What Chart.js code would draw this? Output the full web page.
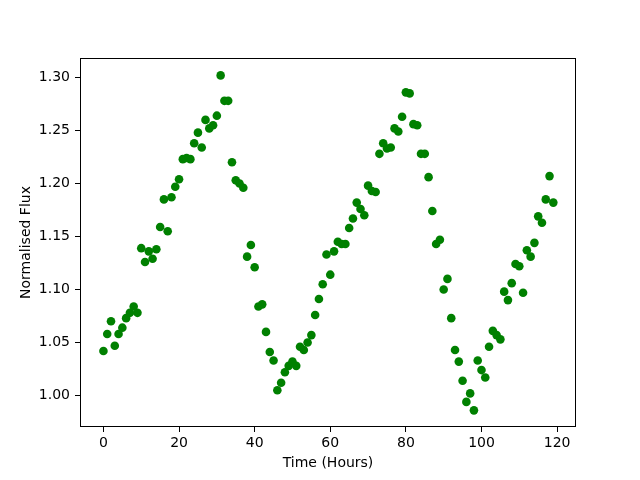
<!DOCTYPE html>
<html>
<head>
<meta charset="utf-8">
<script src="https://cdn.jsdelivr.net/npm/chart.js@4"></script>
<style>
  html, body { margin: 0; padding: 0; background: #fff; }
  #wrap { width: 640px; height: 480px; }
</style>
</head>
<body>
<div id="wrap"><canvas id="chart" width="640" height="480"></canvas></div>
<script>
// time of each sample, hours
const hours = [
    0, 1, 2, 3, 4, 5, 6, 7, 8, 9,
    10, 11, 12, 13, 14, 15, 16, 17, 18, 19,
    20, 21, 22, 23, 24, 25, 26, 27, 28, 29,
    30, 31, 32, 33, 34, 35, 36, 37, 38, 39,
    40, 41, 42, 43, 44, 45, 46, 47, 48, 49,
    50, 51, 52, 53, 54, 55, 56, 57, 58, 59,
    60, 61, 62, 63, 64, 65, 66, 67, 68, 69,
    70, 71, 72, 73, 74, 75, 76, 77, 78, 79,
    80, 81, 82, 83, 84, 85, 86, 87, 88, 89,
    90, 91, 92, 93, 94, 95, 96, 97, 98, 99,
    100, 101, 102, 103, 104, 105, 106, 107, 108, 109,
    110, 111, 112, 113, 114, 115, 116, 117, 118, 119
];

// normalised flux
const flux = [
    1.042, 1.058, 1.070, 1.047, 1.058, 1.064, 1.073, 1.078, 1.084, 1.078,
    1.139, 1.126, 1.136, 1.129, 1.138, 1.159, 1.185, 1.155, 1.187, 1.197,
    1.204, 1.223, 1.224, 1.223, 1.238, 1.248, 1.234, 1.260, 1.252, 1.255,
    1.264, 1.302, 1.278, 1.278, 1.220, 1.203, 1.200, 1.196, 1.131, 1.142,
    1.121, 1.084, 1.086, 1.060, 1.041, 1.033, 1.005, 1.012, 1.022, 1.028,
    1.032, 1.028, 1.046, 1.043, 1.050, 1.057, 1.076, 1.091, 1.105, 1.133,
    1.114, 1.136, 1.145, 1.143, 1.143, 1.158, 1.167, 1.182, 1.176, 1.170,
    1.198, 1.193, 1.192, 1.228, 1.238, 1.233, 1.234, 1.252, 1.249, 1.263,
    1.286, 1.285, 1.256, 1.255, 1.228, 1.228, 1.206, 1.174, 1.143, 1.147,
    1.100, 1.110, 1.073, 1.043, 1.032, 1.014, 0.994, 1.002, 0.986, 1.033,
    1.024, 1.017, 1.046, 1.061, 1.057, 1.053, 1.098, 1.090, 1.106, 1.124,
    1.122, 1.097, 1.137, 1.131, 1.144, 1.169, 1.163, 1.185, 1.207, 1.182
];

const xTicks = [0, 20, 40, 60, 80, 100, 120];
const yTicks = [1.00, 1.05, 1.10, 1.15, 1.20, 1.25, 1.30];

const font = { family: 'DejaVu Sans', size: 14 };

// black box round the plot area
const frame = {
    id: 'frame',
    afterDraw(chart) {
        const { ctx, chartArea: a } = chart;
        ctx.save();
        ctx.strokeStyle = '#000';
        ctx.lineWidth = 1;
        ctx.strokeRect(a.left + 0.5, a.top + 0.5, a.right - a.left - 1, a.bottom - a.top - 1);
        ctx.restore();
    }
};

new Chart(document.getElementById('chart'), {
    type: 'scatter',
    data: {
        datasets: [{
            data: hours.map((h, i) => ({ x: h, y: flux[i] })),
            backgroundColor: '#008000',
            borderColor: '#008000',
            borderWidth: 0,
            pointRadius: 4.3,
            pointHoverRadius: 4.3
        }]
    },
    options: {
        responsive: false,
        animation: false,
        devicePixelRatio: 1,
        layout: { padding: { left: 0, top: 58, right: 64, bottom: 0 } },
        plugins: { legend: { display: false }, tooltip: { enabled: false } },
        scales: {
            x: {
                type: 'linear',
                min: -6.2,
                max: 125.0,
                afterFit: s => { s.height = 53; },
                afterBuildTicks: s => { s.ticks = xTicks.map(v => ({ value: v })); },
                grid: { drawOnChartArea: false, drawTicks: true, tickLength: 5, tickColor: '#000' },
                border: { display: false },
                ticks: { color: '#000', font: font, padding: 3, maxRotation: 0, autoSkip: false },
                title: { display: true, text: 'Time (Hours)', color: '#000', font: font, padding: { top: 0, bottom: 8.6 } }
            },
            y: {
                type: 'linear',
                min: 0.9703,
                max: 1.3184,
                afterFit: s => { s.width = 80; },
                afterBuildTicks: s => { s.ticks = yTicks.map(v => ({ value: v })); },
                grid: { drawOnChartArea: false, drawTicks: true, tickLength: 5, tickColor: '#000' },
                border: { display: false },
                ticks: { color: '#000', font: font, padding: 5, autoSkip: false, callback: v => v.toFixed(2) },
                title: { display: true, text: 'Normalised Flux', color: '#000', font: font, padding: { top: 17.6, bottom: 0 } }
            }
        }
    },
    plugins: [frame]
});
</script>
</body>
</html>
